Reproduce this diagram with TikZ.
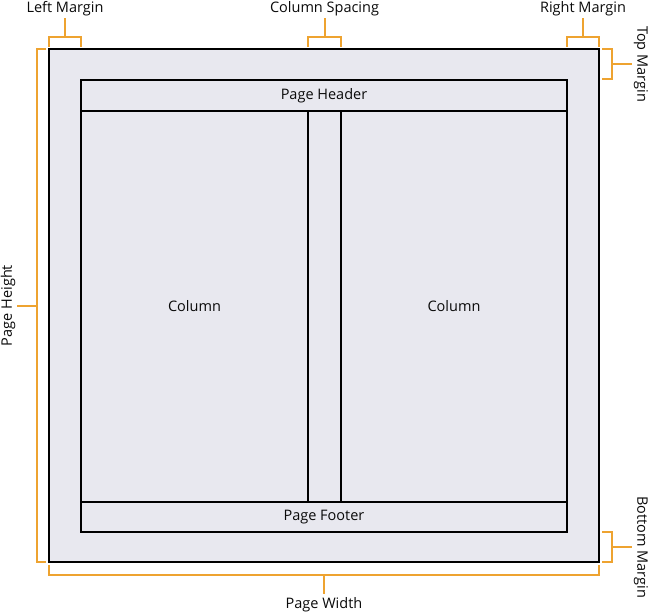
\documentclass[tikz,border=0pt]{standalone}
\usepackage{fontspec}
\setmainfont{Open Sans}
\definecolor{pagefill}{RGB}{232,232,239}
\definecolor{dimorange}{RGB}{238,163,48}
\definecolor{textgrey}{RGB}{10,10,10}
\tikzset{
  frame/.style={draw=black, line width=2.5pt, outer sep=0pt, inner sep=0pt,
    text=textgrey, font=\fontsize{14.5}{17}\selectfont},
  bracket/.style={draw=dimorange, line width=2pt},
  lbl/.style={text=textgrey, font=\fontsize{14.5}{17}\selectfont, inner sep=0pt},
}

\begin{document}
\begin{tikzpicture}[x=1pt, y=-1pt]
  \useasboundingbox (0,0) rectangle (650,615);
  % page and its parts
  \node[frame, fill=pagefill, minimum width=550pt, minimum height=513pt] (page) at (324,305.5) {};
  \node[frame, minimum width=486pt, minimum height=31pt] (header) at (324,95.5) {Page Header};
  \node[frame, minimum width=227pt, minimum height=391pt] (colL) at (194.5,306.5) {Column};
  \node[frame, draw=none, minimum width=33pt, minimum height=391pt] (spacing) at (324.5,306.5) {};
  \node[frame, minimum width=226pt, minimum height=391pt] (colR) at (454,306.5) {Column};
  \node[frame, minimum width=486pt, minimum height=30pt] (footer) at (324,517) {Page Footer};

  % labels
  \node[lbl] (lblLeft) at (65,9) {Left Margin};
  \node[lbl] (lblSpacing) at (324.5,9) {Column Spacing};
  \node[lbl] (lblRight) at (583,9) {Right Margin};
  \node[lbl, rotate=-90] (lblTop) at (641,64) {Top Margin};
  \node[lbl, rotate=-90] (lblBottom) at (641,547) {Bottom Margin};
  \node[lbl, rotate=90] (lblHeight) at (8,305.5) {Page Height};
  \node[lbl] (lblWidth) at (324,605) {Page Width};

  % brackets
  \coordinate (lm) at (65,37);
  \coordinate (cs) at (324.5,37);
  \coordinate (rm) at (583,37);
  \coordinate (tm) at (612,64);
  \coordinate (bm) at (612,547);
  \coordinate (ph) at (37,305.5);
  \coordinate (pw) at (324,575);
  \draw[bracket] (49,47) -- (49,37) -- (81,37) -- (81,47);
  \draw[bracket] (308,47) -- (308,37) -- (341,37) -- (341,47);
  \draw[bracket] (567,47) -- (567,37) -- (599,37) -- (599,47);
  \draw[bracket] (602,49) -- (612,49) -- (612,79) -- (602,79);
  \draw[bracket] (602,532) -- (612,532) -- (612,562) -- (602,562);
  \draw[bracket] (46,49) -- (37,49) -- (37,562) -- (46,562);
  \draw[bracket] (49,565) -- (49,575) -- (599,575) -- (599,565);
  \draw[bracket, shorten >=2pt] (lm) -- (lm |- lblLeft.south);
  \draw[bracket, shorten >=2pt] (cs) -- (cs |- lblSpacing.south);
  \draw[bracket, shorten >=2pt] (rm) -- (rm |- lblRight.south);
  \draw[bracket, shorten >=2pt] (tm) -- (tm -| lblTop.south);
  \draw[bracket, shorten >=2pt] (bm) -- (bm -| lblBottom.south);
  \draw[bracket, shorten >=2pt] (ph) -- (ph -| lblHeight.south);
  \draw[bracket, shorten >=4pt] (pw) -- (pw |- lblWidth.north);
\end{tikzpicture}
\end{document}
